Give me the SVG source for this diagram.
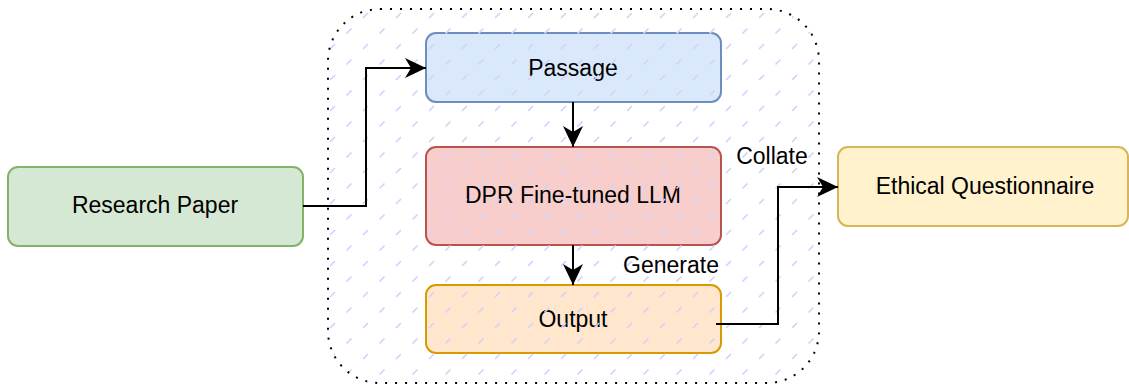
<svg xmlns="http://www.w3.org/2000/svg" width="1129" height="385" viewBox="0 0 1129 385">
<style>
.box{stroke-width:2}
.lbl{font-family:"Liberation Sans",Arial,sans-serif;font-size:23px;fill:#000;text-anchor:middle}
.edge{fill:none;stroke:#000;stroke-width:2}
</style>
<defs>
<pattern id="hatch" patternUnits="userSpaceOnUse" x="14" y="26" width="33" height="31">
<path d="M2.5 7.5L7.5 2.5M19 23L24 18" stroke="#d2d2fb" stroke-width="1.7"/>
</pattern>
<marker id="arr" markerUnits="userSpaceOnUse" markerWidth="23" markerHeight="22" refX="21" refY="11" orient="auto">
<path d="M21 11L0 1L6 11L0 21Z" fill="#000"/>
</marker>
</defs>
<rect width="1129" height="385" fill="#fff"/>
<g id="research-paper">
<rect class="box" x="8" y="167" width="295" height="79" rx="10" fill="#d5e8d4" stroke="#82b366"/>
<text class="lbl" x="155" y="213">Research Paper</text>
</g>
<g id="passage">
<rect class="box" x="426" y="33" width="295" height="69" rx="10" fill="#dae8fc" stroke="#6c8ebf"/>
<text class="lbl" x="573" y="76">Passage</text>
</g>
<g id="dpr">
<rect class="box" x="426" y="147" width="295" height="98" rx="10" fill="#f8cecc" stroke="#b85450"/>
<text class="lbl" x="573" y="203">DPR Fine-tuned LLM</text>
</g>
<g id="output">
<rect class="box" x="426" y="285" width="295" height="68" rx="10" fill="#ffe6cc" stroke="#d79b00"/>
<text class="lbl" x="573" y="327">Output</text>
</g>
<g id="ethical-questionnaire">
<rect class="box" x="838" y="147" width="290" height="79" rx="10" fill="#fff2cc" stroke="#d6b656"/>
<text class="lbl" x="985" y="194">Ethical Questionnaire</text>
</g>
<g id="container">
<rect x="328" y="9" width="491" height="374" rx="52" fill="url(#hatch)" stroke="#000" stroke-width="2" stroke-dasharray="2 8"/>
</g>
<g id="connectors">
<path class="edge" d="M303 206H366V68H426" marker-end="url(#arr)"/>
<path class="edge" d="M573 102V147" marker-end="url(#arr)"/>
<path class="edge" d="M573 245V285" marker-end="url(#arr)"/>
<path class="edge" d="M716 324H778V187H838" marker-end="url(#arr)"/>
<text class="lbl" x="772" y="164">Collate</text>
<text class="lbl" x="671" y="273">Generate</text>
</g>
</svg>
